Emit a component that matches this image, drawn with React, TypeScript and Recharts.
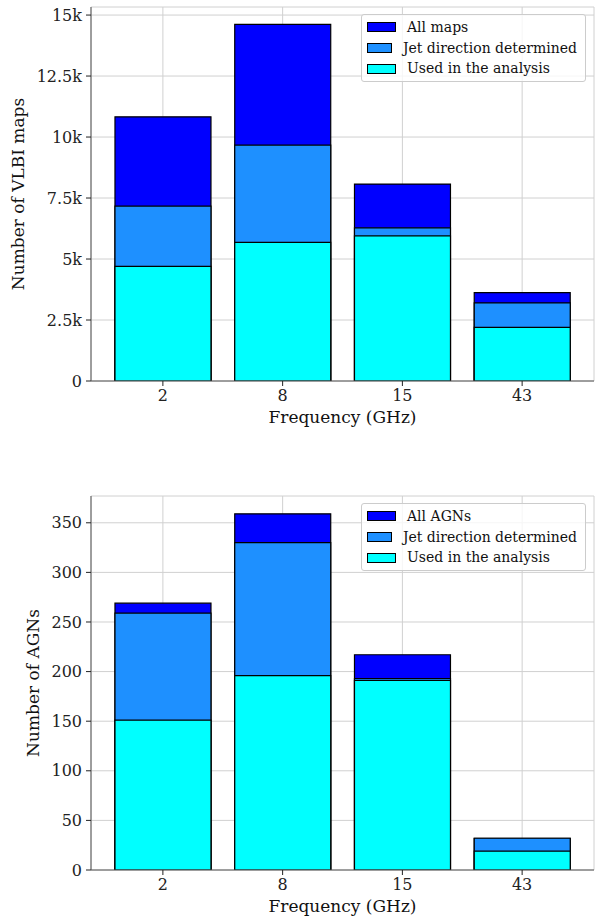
import { BarChart, Bar, XAxis, YAxis, CartesianGrid, Legend } from "recharts";

const frequencies = ["2", "8", "15", "43"];

// upper panel: VLBI maps
const mapsAll = [10830, 14620, 8070, 3620];
const mapsJet = [7170, 9670, 6280, 3200];
const mapsUsed = [4700, 5680, 5950, 2200];
const mapsTicks = [0, 2500, 5000, 7500, 10000, 12500, 15000];
const mapsLegend = ["All maps", "Jet direction determined", "Used in the analysis"];

// lower panel: AGNs
const agnAll = [269, 359, 217, 32];
const agnJet = [259, 330, 193, 32];
const agnUsed = [151, 196, 191, 19];
const agnTicks = [0, 50, 100, 150, 200, 250, 300, 350];
const agnLegend = ["All AGNs", "Jet direction determined", "Used in the analysis"];

const colors = ["#0000ff", "#1e90ff", "#00ffff"];
const font = "'DejaVu Serif', serif";
const spine = "#555555";

function rows(all: number[], jet: number[], used: number[]) {
  return frequencies.map((f, i) => ({ freq: f, all: all[i], jet: jet[i], used: used[i] }));
}

function BoxLegend({ labels }: { labels: string[] }) {
  return (
    <div
      style={{
        background: "rgba(255,255,255,0.8)",
        border: "1px solid #cccccc",
        borderRadius: 3,
        padding: "2px 8px 2px 5px",
        fontFamily: font,
        fontSize: 14,
        lineHeight: "20.7px",
        color: "#111",
      }}
    >
      {labels.map((l, i) => (
        <div key={l} style={{ display: "flex", alignItems: "center", whiteSpace: "nowrap" }}>
          <span
            style={{
              display: "inline-block",
              width: 27,
              height: 8,
              background: colors[i],
              border: "1px solid #000",
              marginRight: 11,
            }}
          />
          {l}
        </div>
      ))}
    </div>
  );
}

type PanelProps = {
  data: { freq: string; all: number; jet: number; used: number }[];
  height: number;
  margin: { top: number; right: number; bottom: number; left: number };
  domainMax: number;
  ticks: number[];
  fmt: (v: number) => string;
  yLabel: string;
  yLabelOffset: number;
  legend: string[];
  legendTop: number;
};

function Panel(p: PanelProps) {
  const pad = { left: 12, right: 12 };
  const tickStyle = { fill: "#222", fontSize: 16, fontFamily: font };
  return (
    <BarChart width={595} height={p.height} data={p.data} margin={p.margin}>
      <CartesianGrid stroke="#d0d0d0" strokeWidth={1} />
      <XAxis
        dataKey="freq"
        padding={pad}
        height={44}
        tickSize={5}
        tickMargin={4}
        tick={tickStyle}
        stroke="#222"
        axisLine={{ stroke: spine }}
        label={{ value: "Frequency (GHz)", position: "insideBottom", offset: 2, fill: "#111", fontSize: 17, fontFamily: font }}
      />
      <XAxis xAxisId="jet" dataKey="freq" padding={pad} hide />
      <XAxis xAxisId="used" dataKey="freq" padding={pad} hide />
      <XAxis xAxisId="frame" dataKey="freq" orientation="top" height={0} tick={false} tickLine={false} axisLine={{ stroke: spine }} />
      <YAxis
        width={91}
        domain={[0, p.domainMax]}
        ticks={p.ticks}
        tickFormatter={p.fmt}
        allowDataOverflow
        tickSize={5}
        tickMargin={4}
        tick={tickStyle}
        stroke="#222"
        axisLine={{ stroke: spine }}
        label={{
          value: p.yLabel,
          angle: -90,
          position: "insideLeft",
          offset: p.yLabelOffset,
          fill: "#111",
          fontSize: 17,
          fontFamily: font,
          style: { textAnchor: "middle" },
        }}
      />
      <YAxis yAxisId="frame" orientation="right" width={0} tick={false} tickLine={false} axisLine={{ stroke: spine }} />
      <Legend
        layout="horizontal"
        align="center"
        verticalAlign="middle"
        content={() => <BoxLegend labels={p.legend} />}
        wrapperStyle={{ position: "absolute", left: 361, top: p.legendTop, width: 225 }}
      />
      <Bar dataKey="all" fill={colors[0]} stroke="#000" strokeWidth={1.2} isAnimationActive={false} />
      <Bar dataKey="jet" xAxisId="jet" fill={colors[1]} stroke="#000" strokeWidth={1.2} isAnimationActive={false} />
      <Bar dataKey="used" xAxisId="used" fill={colors[2]} stroke="#000" strokeWidth={1.2} isAnimationActive={false} />
    </BarChart>
  );
}

export default function App() {
  return (
    <div style={{ position: "absolute", left: 0, top: 0, width: 595, height: 920, background: "#fff", fontFamily: font }}>
      <div style={{ position: "absolute", left: 0, top: 0 }}>
        <Panel
          data={rows(mapsAll, mapsJet, mapsUsed)}
          height={440}
          margin={{ top: 7, right: 1, bottom: 15, left: 0 }}
          domainMax={15330}
          ticks={mapsTicks}
          fmt={(v) => (v === 0 ? "0" : `${v / 1000}k`)}
          yLabel="Number of VLBI maps"
          yLabelOffset={18}
          legend={mapsLegend}
          legendTop={14}
        />
      </div>
      <div style={{ position: "absolute", left: 0, top: 460 }}>
        <Panel
          data={rows(agnAll, agnJet, agnUsed)}
          height={460}
          margin={{ top: 36, right: 1, bottom: 6, left: 0 }}
          domainMax={377}
          ticks={agnTicks}
          fmt={(v) => `${v}`}
          yLabel="Number of AGNs"
          yLabelOffset={33}
          legend={agnLegend}
          legendTop={43}
        />
      </div>
    </div>
  );
}
